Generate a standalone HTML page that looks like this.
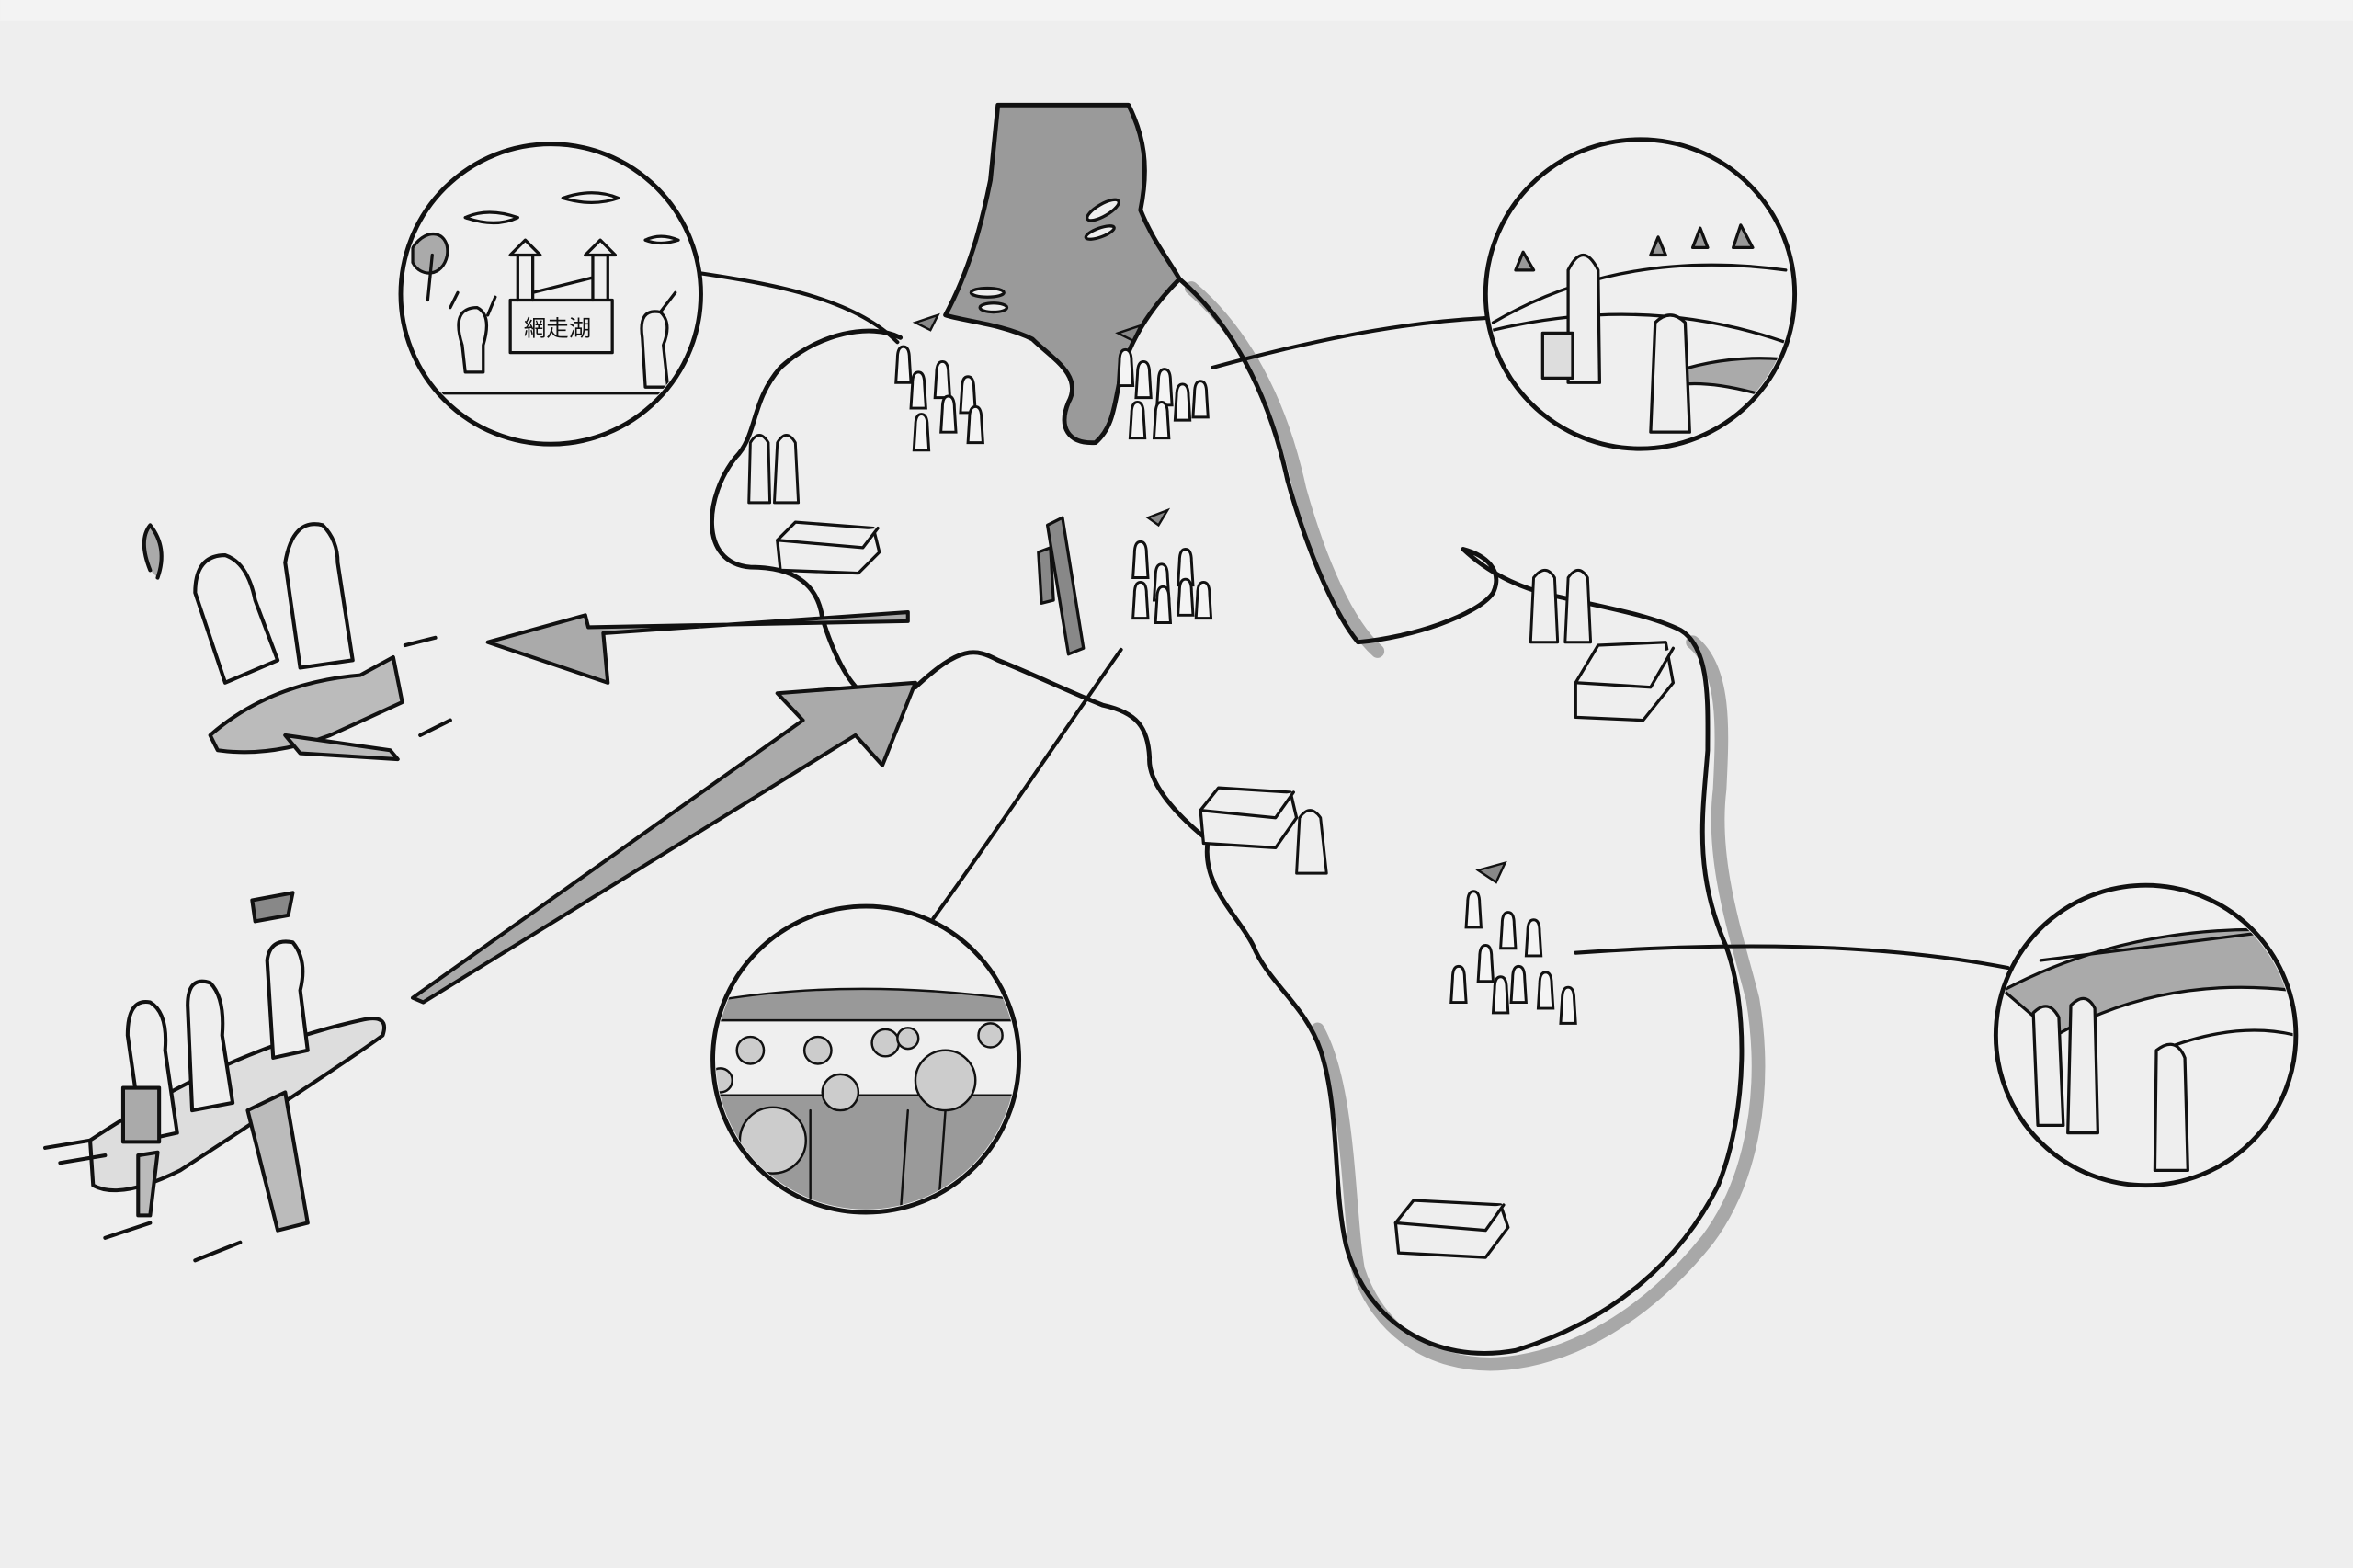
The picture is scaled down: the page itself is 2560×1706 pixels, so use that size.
<!DOCTYPE html>
<html><head><meta charset="utf-8"><style>
html,body{margin:0;padding:0;background:#eeeeee;}
svg{display:block;}
</style></head><body>
<svg width="2560" height="1706" viewBox="0 0 1568 1045" xmlns="http://www.w3.org/2000/svg" font-family="Liberation Sans, Noto Sans CJK JP, sans-serif">
<defs>
<path id="p" d="M-4,4 Q-4,-4 0,-4 Q4,-4 4,4 L5,20 L-5,20 Z" fill="#f4f4f4" stroke="#111" stroke-width="1.8"/>
</defs>
<rect width="1568" height="1045" fill="#eeeeee"/>
<rect width="1568" height="14" fill="#f3f3f3"/>
<g fill="none" stroke-linecap="round" stroke-linejoin="round">
<!-- lake -->
<path d="M665,70 L752,70 C762,90 766,110 760,140 C768,160 778,172 786,186 C772,200 758,218 750,240 C742,262 745,282 730,295 C712,296 705,285 712,268 C722,250 700,238 688,226 C668,216 642,214 630,210 C646,180 654,150 660,120 Z" fill="#9a9a9a" stroke="#111" stroke-width="3"/>
<g fill="#eee" stroke="#111" stroke-width="2"><ellipse cx="735" cy="140" rx="12" ry="4" transform="rotate(-30 735 140)"/><ellipse cx="733" cy="155" rx="10" ry="3" transform="rotate(-20 733 155)"/><ellipse cx="658" cy="195" rx="11" ry="3"/><ellipse cx="662" cy="205" rx="9" ry="3"/></g>
<!-- shadow coast -->
<path d="M786,186 C820,215 845,260 858,320 C872,370 890,410 910,428 M1120,422 C1142,440 1140,480 1138,520 C1132,570 1150,620 1160,660 C1170,720 1160,780 1130,820 C1090,870 1040,900 990,903 C945,905 910,880 897,840 C890,800 892,720 870,680" stroke="#a8a8a8" stroke-width="9" transform="translate(8,6)"/>
<!-- main coast -->
<path d="M786,186 C820,215 845,260 858,320 C872,370 890,410 905,428 C940,425 985,410 995,395 C1002,380 990,370 975,366 C990,380 1010,392 1040,398 C1070,405 1100,410 1120,420 C1140,432 1138,470 1138,500 C1135,540 1128,580 1150,630 C1165,670 1165,740 1145,790 C1120,840 1075,880 1010,900 C955,910 910,880 897,830 C888,790 893,740 880,700 C870,670 845,655 835,630 C825,610 800,590 805,560 C780,540 765,520 766,505 C765,485 758,475 735,470 C710,460 690,450 665,440 C650,432 640,430 610,458" stroke="#111" stroke-width="3"/>
<path d="M600,225 C580,215 545,222 520,245 C500,268 505,290 490,305 C470,330 465,375 500,378 C530,378 545,390 548,412 C555,435 565,455 575,462" stroke="#111" stroke-width="3"/>
<path d="M747,433 C700,500 660,560 622,612" stroke="#111" stroke-width="2.5"/>
<path d="M466,182 C520,190 570,200 598,228" stroke="#111" stroke-width="2.5"/>
<path d="M808,245 C870,228 930,215 990,212" stroke="#111" stroke-width="2.5"/>
<path d="M1050,635 C1150,628 1250,628 1338,645" stroke="#111" stroke-width="2.5"/>
<!-- pier -->
<path d="M698,350 L708,345 L722,432 L712,436 Z" fill="#888" stroke="#111" stroke-width="2"/>
<path d="M692,368 L700,365 L702,400 L694,402 Z" fill="#888" stroke="#111" stroke-width="2"/>
<!-- arrows -->
<path d="M605,408 L402,422 L405,455 L325,428 L390,410 L392,418 L605,414 Z" fill="#aaa" stroke="#111" stroke-width="2.5"/>
<path d="M275,665 L535,480 L518,462 L610,455 L588,510 L570,490 L282,668 Z" fill="#aaa" stroke="#111" stroke-width="2.5"/>
<!-- circles -->
<g stroke="#111" stroke-width="3" fill="#efefef">
<circle cx="367" cy="196" r="100"/><circle cx="1093" cy="196" r="103"/><circle cx="577" cy="706" r="102"/><circle cx="1430" cy="690" r="100"/>
</g>
<!-- circle 1 content -->
<clipPath id="c1"><circle cx="367" cy="196" r="98"/></clipPath>
<g stroke="#111" stroke-width="2" clip-path="url(#c1)">
<path d="M275,165 C285,150 300,155 298,170 C295,185 280,185 275,175Z" fill="#aaa"/>
<path d="M285,200 L288,170"/>
<path d="M310,145 Q325,138 345,145 Q330,152 310,145 M375,132 Q395,125 412,132 Q395,138 375,132 M430,160 Q440,155 452,160 Q440,164 430,160" />
<path d="M340,200 L408,200 L408,235 L340,235 Z" fill="#eee"/>
<path d="M345,200 L345,170 L355,170 L355,200 M395,200 L395,170 L405,170 L405,200 M355,195 L395,185"/>
<path d="M340,170 L360,170 L350,160 Z M390,170 L410,170 L400,160Z" fill="#eee"/>
<path d="M308,230 Q300,205 318,205 Q328,210 322,230 L322,248 L310,248 Z M428,225 Q425,205 440,208 Q448,215 442,230 L445,258 L430,258 Z" fill="#eee"/>
<path d="M300,205 L305,195 M325,210 L330,198 M440,208 L450,195"/>
<path d="M268,262 L465,262"/>
</g>
<text x="349" y="224" font-size="15" fill="#111">網走湖</text>
<!-- circle 2 -->
<clipPath id="c2"><circle cx="1093" cy="196" r="101"/></clipPath>
<g stroke="#111" stroke-width="2" clip-path="url(#c2)">
<path d="M995,215 Q1080,165 1190,180 M995,220 Q1100,195 1195,230"/>
<path d="M1110,250 Q1150,235 1195,240 L1195,270 Q1140,250 1110,258Z" fill="#aaa"/>
<path d="M1045,180 Q1055,160 1065,180 L1066,255 L1045,255 Z" fill="#eee"/>
<path d="M1103,215 Q1113,205 1123,215 L1126,288 L1100,288 Z" fill="#eee"/>
<rect x="1028" y="222" width="20" height="30" fill="#ddd"/>
<path d="M1100,170 L1105,158 L1110,170Z M1128,165 L1133,152 L1138,165Z M1155,165 L1160,150 L1168,165Z M1010,180 L1015,168 L1022,180Z" fill="#999"/>
</g>
<!-- circle 3 sunflowers -->
<clipPath id="c3"><circle cx="577" cy="706" r="100"/></clipPath>
<g clip-path="url(#c3)" stroke="#111" stroke-width="1.5">
<path d="M470,668 Q570,650 690,668 L690,680 L470,680Z" fill="#999"/>
<rect x="470" y="730" width="220" height="90" fill="#9a9a9a"/>
<g fill="#ccc"><circle cx="515" cy="760" r="22"/><circle cx="630" cy="720" r="20"/><circle cx="560" cy="728" r="12"/><circle cx="500" cy="700" r="9"/><circle cx="545" cy="700" r="9"/><circle cx="590" cy="695" r="9"/><circle cx="660" cy="690" r="8"/><circle cx="480" cy="720" r="8"/><circle cx="605" cy="692" r="7"/></g>
<path d="M605,740 L600,810 M630,740 L625,810 M540,740 L540,810"/>
</g>
<!-- circle 4 -->
<clipPath id="c4"><circle cx="1430" cy="690" r="98"/></clipPath>
<g stroke="#111" stroke-width="2" clip-path="url(#c4)">
<path d="M1335,660 Q1420,615 1525,620 L1528,660 Q1440,650 1370,690Z" fill="#aaa"/>
<path d="M1360,640 L1520,620"/>
<path d="M1440,700 Q1490,680 1530,690"/>
<path d="M1355,675 Q1365,665 1372,678 L1375,750 L1358,750Z M1380,670 Q1390,660 1396,672 L1398,755 L1378,755Z M1437,700 Q1450,690 1456,705 L1458,780 L1436,780Z" fill="#eee"/>
</g>
<!-- houses -->
<g stroke="#111" stroke-width="2" fill="#eee">
<path d="M518,360 L530,348 L582,352 L586,368 L572,382 L520,380Z"/><path d="M518,360 L575,365 L585,352"/>
<path d="M1050,455 L1065,430 L1110,428 L1115,455 L1095,480 L1050,478Z"/><path d="M1050,455 L1100,458 L1115,432"/>
<path d="M800,540 L812,525 L860,528 L864,545 L850,565 L802,562Z"/><path d="M800,540 L850,545 L862,528"/>
<path d="M930,815 L942,800 L1000,803 L1005,818 L990,838 L932,835Z"/><path d="M930,815 L990,820 L1002,803"/>
</g>
<!-- farmers -->
<g stroke="#111" stroke-width="1.8" fill="#eee">
<path d="M500,295 Q506,285 512,295 L513,335 L499,335Z M518,295 Q524,285 530,295 L532,335 L516,335Z"/>
<path d="M1022,385 Q1030,375 1036,385 L1038,428 L1020,428Z M1045,385 Q1052,375 1058,385 L1060,428 L1043,428Z"/>
<path d="M866,545 Q873,535 880,545 L884,582 L864,582Z"/>
</g>
</g>
<!-- people groups -->
<use href="#p" x="602" y="235"/><use href="#p" x="612" y="252"/><use href="#p" x="628" y="245"/><use href="#p" x="645" y="255"/><use href="#p" x="632" y="268"/><use href="#p" x="614" y="280"/><use href="#p" x="650" y="275"/>
<use href="#p" x="750" y="237"/><use href="#p" x="762" y="245"/><use href="#p" x="776" y="250"/><use href="#p" x="788" y="260"/><use href="#p" x="800" y="258"/><use href="#p" x="758" y="272"/><use href="#p" x="774" y="272"/>
<use href="#p" x="760" y="365"/><use href="#p" x="774" y="380"/><use href="#p" x="790" y="370"/><use href="#p" x="760" y="392"/><use href="#p" x="775" y="395"/><use href="#p" x="790" y="390"/><use href="#p" x="802" y="392"/>
<use href="#p" x="982" y="598"/><use href="#p" x="1005" y="612"/><use href="#p" x="1022" y="617"/><use href="#p" x="990" y="634"/><use href="#p" x="1012" y="648"/><use href="#p" x="1030" y="652"/><use href="#p" x="1045" y="662"/><use href="#p" x="972" y="648"/><use href="#p" x="1000" y="655"/>
<g stroke="#111" stroke-width="1.5" fill="#888">
<path d="M610,215 L625,210 L620,220Z M745,222 L760,217 L755,227Z M765,345 L778,340 L772,350Z M985,580 L1003,575 L997,588Z"/>
</g>
<!-- planes -->
<g stroke="#111" stroke-width="2.5" fill="none" stroke-linecap="round" stroke-linejoin="round">
<path d="M140,490 Q180,455 240,450 L262,438 L268,468 L220,490 Q180,505 145,500 Z" fill="#bbb"/>
<path d="M190,490 L260,500 L265,506 L200,502Z" fill="#bbb"/>
<path d="M130,395 Q130,370 150,370 Q165,375 170,400 L185,440 L150,455 Z" fill="#eee"/>
<path d="M190,375 Q195,345 215,350 Q225,360 225,375 L235,440 L200,445Z" fill="#eee"/>
<path d="M100,380 Q92,360 100,350 Q112,365 105,385" fill="#aaa"/>
<path d="M60,760 Q150,700 240,680 Q260,675 255,690 Q235,705 120,780 Q80,800 62,790 Z" fill="#ddd"/>
<path d="M165,740 L190,728 L205,815 L185,820Z M92,770 L105,768 L100,810 L92,810Z" fill="#bbb"/>
<path d="M85,690 Q85,665 100,668 Q112,675 110,700 L118,755 L95,760 Z M125,670 Q125,650 140,655 Q150,665 148,690 L155,735 L128,740Z M178,640 Q180,625 195,628 Q205,640 200,660 L205,700 L182,705Z" fill="#eee"/>
<rect x="82" y="725" width="24" height="36" fill="#aaa"/>
<path d="M168,600 L195,595 L192,610 L170,614Z" fill="#888"/>
<path d="M30,765 L60,760 M40,775 L70,770 M70,825 L100,815 M130,840 L160,828 M270,430 L290,425 M280,490 L300,480"/>
</g>
</svg>
</body></html>
